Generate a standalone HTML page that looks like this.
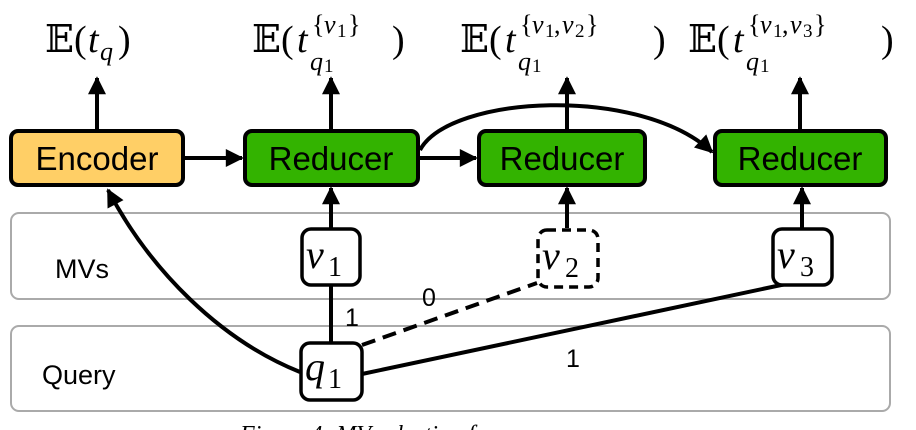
<!DOCTYPE html>
<html><head><meta charset="utf-8"><style>
html,body{margin:0;padding:0;background:#fff;width:916px;height:430px;overflow:hidden}
text{font-family:"Liberation Sans",sans-serif}
.m{font-family:"Liberation Serif","DejaVu Serif",serif}
</style></head><body>
<svg width="916" height="430" viewBox="0 0 916 430" style="display:block">
<defs>
<marker id="a" viewBox="0 0 10 10" markerWidth="20" markerHeight="18" refX="9" refY="5" orient="auto" markerUnits="userSpaceOnUse"><path d="M0,0 L10,5 L0,10z" fill="#000"/></marker></defs>
<rect x="11" y="213" width="879" height="86" rx="8" fill="#fff" stroke="#aaa" stroke-width="2"/>
<rect x="11" y="326" width="879" height="85" rx="8" fill="#fff" stroke="#aaa" stroke-width="2"/>
<text x="55" y="278" font-size="27">MVs</text>
<text x="42" y="384" font-size="27">Query</text>
<g stroke="#000" stroke-width="4" fill="none">
<line x1="97" y1="130" x2="97" y2="78" marker-end="url(#a)"/>
<line x1="331" y1="130" x2="331" y2="78" marker-end="url(#a)"/>
<line x1="567" y1="130" x2="567" y2="78" marker-end="url(#a)"/>
<line x1="800" y1="130" x2="800" y2="78" marker-end="url(#a)"/>
<line x1="183" y1="158" x2="242" y2="158" marker-end="url(#a)"/>
<line x1="418" y1="158" x2="476" y2="158" marker-end="url(#a)"/>
<path d="M420,150 C450,95 640,85 712,152" marker-end="url(#a)"/>
<line x1="331" y1="228" x2="331" y2="188" marker-end="url(#a)"/>
<line x1="567" y1="228" x2="567" y2="188" marker-end="url(#a)"/>
<line x1="802" y1="228" x2="802" y2="188" marker-end="url(#a)"/>
<line x1="331" y1="342" x2="331" y2="285"/>
<line x1="362" y1="345" x2="537" y2="283" stroke-dasharray="14,8"/>
<line x1="362" y1="374" x2="786" y2="284"/>
<path d="M300,372 C220,340 150,270 108,190" marker-end="url(#a)"/>
</g>
<text x="345" y="326" font-size="25">1</text>
<text x="422" y="306" font-size="25">0</text>
<text x="566" y="367" font-size="25">1</text>
<rect x="11" y="131" width="172" height="54" rx="7" fill="#ffcf66" stroke="#000" stroke-width="4"/>
<text x="97" y="170" font-size="33" text-anchor="middle">Encoder</text>
<rect x="245" y="131" width="173" height="54" rx="7" fill="#33b300" stroke="#000" stroke-width="4"/>
<text x="331" y="170" font-size="33" text-anchor="middle">Reducer</text>
<rect x="479" y="131" width="166" height="54" rx="7" fill="#33b300" stroke="#000" stroke-width="4"/>
<text x="562" y="170" font-size="33" text-anchor="middle">Reducer</text>
<rect x="715" y="131" width="171" height="54" rx="7" fill="#33b300" stroke="#000" stroke-width="4"/>
<text x="800" y="170" font-size="33" text-anchor="middle">Reducer</text>
<rect x="302" y="229" width="58" height="56" rx="9" fill="#fff" stroke="#000" stroke-width="3.5"/>
<text class="m" x="306" y="268" font-size="40" font-style="italic">v</text><text class="m" x="328" y="276" font-size="28">1</text>
<rect x="538" y="230" width="60" height="57" rx="9" fill="#fff" stroke="#000" stroke-width="3.5" stroke-dasharray="9,6"/>
<text class="m" x="542" y="269" font-size="40" font-style="italic">v</text><text class="m" x="565" y="277" font-size="28">2</text>
<rect x="773" y="229" width="59" height="56" rx="9" fill="#fff" stroke="#000" stroke-width="3.5"/>
<text class="m" x="777" y="268" font-size="40" font-style="italic">v</text><text class="m" x="800" y="276" font-size="28">3</text>
<rect x="301" y="343" width="61" height="57" rx="9" fill="#fff" stroke="#000" stroke-width="3.5"/>
<text class="m" x="305" y="380" font-size="40" font-style="italic">q</text><text class="m" x="328" y="388" font-size="28">1</text>
<g>
<text class="m" x="45" y="52" font-size="38">𝔼(</text><text class="m" x="88" y="52" font-size="38" font-style="italic">t</text><text class="m" x="100" y="60" font-size="26" font-style="italic">q</text><text class="m" x="118" y="52" font-size="38">)</text>

<text class="m" x="252" y="52" font-size="38">𝔼(</text><text class="m" x="297" y="52" font-size="38" font-style="italic">t</text>
<text class="m" x="310" y="70" font-size="26" font-style="italic">q</text><text class="m" x="324" y="72" font-size="19">1</text>
<text class="m" x="312" y="33" font-size="26">{</text><text class="m" x="324" y="33" font-size="26" font-style="italic">v</text><text class="m" x="337" y="37" font-size="19">1</text><text class="m" x="348" y="33" font-size="26">}</text>
<text class="m" x="392" y="52" font-size="38">)</text>

<text class="m" x="460" y="52" font-size="38">𝔼(</text><text class="m" x="505" y="52" font-size="38" font-style="italic">t</text>
<text class="m" x="518" y="70" font-size="26" font-style="italic">q</text><text class="m" x="532" y="72" font-size="19">1</text>
<text class="m" x="520" y="33" font-size="26">{</text><text class="m" x="532" y="33" font-size="26" font-style="italic">v</text><text class="m" x="545" y="37" font-size="19">1</text><text class="m" x="554" y="33" font-size="26">,</text><text class="m" x="562" y="33" font-size="26" font-style="italic">v</text><text class="m" x="575" y="37" font-size="19">2</text><text class="m" x="586" y="33" font-size="26">}</text>
<text class="m" x="653" y="52" font-size="38">)</text>

<text class="m" x="688" y="52" font-size="38">𝔼(</text><text class="m" x="733" y="52" font-size="38" font-style="italic">t</text>
<text class="m" x="746" y="70" font-size="26" font-style="italic">q</text><text class="m" x="760" y="72" font-size="19">1</text>
<text class="m" x="748" y="33" font-size="26">{</text><text class="m" x="760" y="33" font-size="26" font-style="italic">v</text><text class="m" x="773" y="37" font-size="19">1</text><text class="m" x="782" y="33" font-size="26">,</text><text class="m" x="790" y="33" font-size="26" font-style="italic">v</text><text class="m" x="803" y="37" font-size="19">3</text><text class="m" x="814" y="33" font-size="26">}</text>
<text class="m" x="881" y="52" font-size="38">)</text>
</g>
<text class="m" x="240" y="442" font-size="24" font-style="italic">Figure 4: MV selection for q</text>
</svg>
</body></html>
